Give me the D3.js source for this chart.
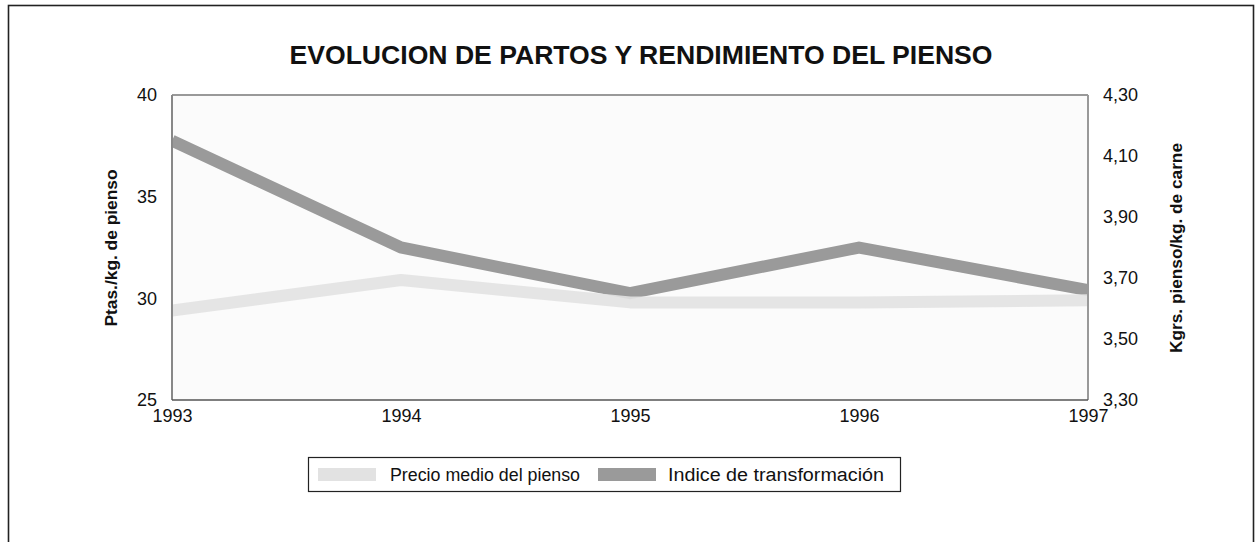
<!DOCTYPE html>
<html><head><meta charset="utf-8">
<script src="https://cdn.jsdelivr.net/npm/d3@7"></script>
<style>
body{margin:0;background:#fff;}
svg text{font-family:"Liberation Sans",Arial,sans-serif;fill:#111;}
</style>
</head><body>
<svg id="c" width="1258" height="542"></svg>
<script>
// ---- data ----
const years = ["1993", "1994", "1995", "1996", "1997"];
const precioMedio = [29.4, 30.9, 29.8, 29.8, 29.9];      // Ptas./kg. de pienso (left axis)
const indiceTransf = [4.15, 3.80, 3.65, 3.80, 3.66];     // Kgrs. pienso/kg. de carne (right axis)
const leftTicks = [25, 30, 35, 40];
const rightTicks = [3.30, 3.50, 3.70, 3.90, 4.10, 4.30];
const seriesNames = ["Precio medio del pienso", "Indice de transformación"];
const titleText = "EVOLUCION DE PARTOS Y RENDIMIENTO DEL PIENSO";
const leftTitle = "Ptas./kg. de pienso";
const rightTitle = "Kgrs. pienso/kg. de carne";

// ---- layout ----
const plot = {l: 172, r: 1088, t: 95, b: 400};
const lightCol = "#e2e2e2", darkCol = "#9a9a9a";
const FONT = "'Liberation Sans',Arial,sans-serif";

const svg = d3.select("#c");

// outer frame
svg.append("rect").attr("x", 8.5).attr("y", 5.5).attr("width", 1245).attr("height", 545)
  .attr("fill", "none").attr("stroke", "#222").attr("stroke-width", 1.6);

// title
svg.append("text").attr("x", 641).attr("y", 64).attr("text-anchor", "middle")
  .attr("textLength", 703).attr("lengthAdjust", "spacingAndGlyphs")
  .style("font-size", "25px").style("font-weight", "bold").text(titleText);

const x = d3.scalePoint().domain(years).range([plot.l, plot.r]);
const yL = d3.scaleLinear().domain([25, 40]).range([plot.b, plot.t]);
const yR = d3.scaleLinear().domain([3.3, 4.3]).range([plot.b, plot.t]);

// plot background
svg.append("rect").attr("x", plot.l).attr("y", plot.t)
  .attr("width", plot.r - plot.l).attr("height", plot.b - plot.t)
  .attr("fill", "#fbfbfb");

// lines
const lineL = d3.line().x((d, i) => x(years[i])).y(d => yL(d));
const lineR = d3.line().x((d, i) => x(years[i])).y(d => yR(d));

svg.append("clipPath").attr("id", "pc").append("rect")
  .attr("x", plot.l).attr("y", plot.t).attr("width", plot.r - plot.l).attr("height", plot.b - plot.t);

const g = svg.append("g").attr("clip-path", "url(#pc)");
g.append("path").datum(indiceTransf).attr("d", lineR)
  .attr("fill", "none").attr("stroke", darkCol).attr("stroke-width", 12).attr("stroke-linejoin", "miter");
g.append("path").datum(precioMedio).attr("d", lineL)
  .attr("fill", "none").attr("stroke", lightCol).attr("stroke-width", 12).attr("stroke-linejoin", "round")
  .attr("opacity", 0.9);

// plot border
svg.append("line").attr("x1", plot.l).attr("x2", plot.r).attr("y1", plot.t).attr("y2", plot.t)
  .attr("stroke", "#999").attr("stroke-width", 2);
svg.append("line").attr("x1", plot.l).attr("x2", plot.l).attr("y1", plot.t).attr("y2", plot.b)
  .attr("stroke", "#888").attr("stroke-width", 2);
svg.append("line").attr("x1", plot.r).attr("x2", plot.r).attr("y1", plot.t).attr("y2", plot.b)
  .attr("stroke", "#999").attr("stroke-width", 2);
svg.append("line").attr("x1", plot.l).attr("x2", plot.r).attr("y1", plot.b).attr("y2", plot.b)
  .attr("stroke", "#555").attr("stroke-width", 1.5);

// axes
const fmtR = v => d3.format(".2f")(v).replace(".", ",");
const axL = svg.append("g").attr("transform", `translate(${plot.l},0)`)
  .call(d3.axisLeft(yL).tickValues(leftTicks).tickSize(0).tickPadding(15));
const axR = svg.append("g").attr("transform", `translate(${plot.r},0)`)
  .call(d3.axisRight(yR).tickValues(rightTicks).tickFormat(fmtR).tickSize(0).tickPadding(15));
const axB = svg.append("g").attr("transform", `translate(0,${plot.b})`)
  .call(d3.axisBottom(x).tickSize(0).tickPadding(9));
[axL, axR, axB].forEach(a => {
  a.select(".domain").remove();
  a.selectAll("text").style("font-size", "18px").style("font-family", FONT).attr("fill", "#111");
});

// axis titles
svg.append("text").attr("transform", `translate(117,248) rotate(-90)`).attr("text-anchor", "middle")
  .attr("textLength", 157).attr("lengthAdjust", "spacingAndGlyphs")
  .style("font-size", "17px").style("font-weight", "bold").text(leftTitle);
svg.append("text").attr("transform", `translate(1182,248) rotate(-90)`).attr("text-anchor", "middle")
  .attr("textLength", 210).attr("lengthAdjust", "spacingAndGlyphs")
  .style("font-size", "17px").style("font-weight", "bold").text(rightTitle);

// legend
const lg = svg.append("g");
lg.append("rect").attr("x", 308.5).attr("y", 457.5).attr("width", 592).attr("height", 34)
  .attr("fill", "#fff").attr("stroke", "#222").attr("stroke-width", 1.2);
const legItems = [
  {name: seriesNames[0], col: lightCol, sx: 318, tx: 390, tl: 190},
  {name: seriesNames[1], col: darkCol, sx: 598, tx: 668, tl: 216}
];
legItems.forEach(it => {
  lg.append("rect").attr("x", it.sx).attr("y", 468).attr("width", 58).attr("height", 13).attr("fill", it.col);
  lg.append("text").attr("x", it.tx).attr("y", 481)
    .attr("textLength", it.tl).attr("lengthAdjust", "spacingAndGlyphs")
    .style("font-size", "18px").text(it.name);
});
</script>
</body></html>
